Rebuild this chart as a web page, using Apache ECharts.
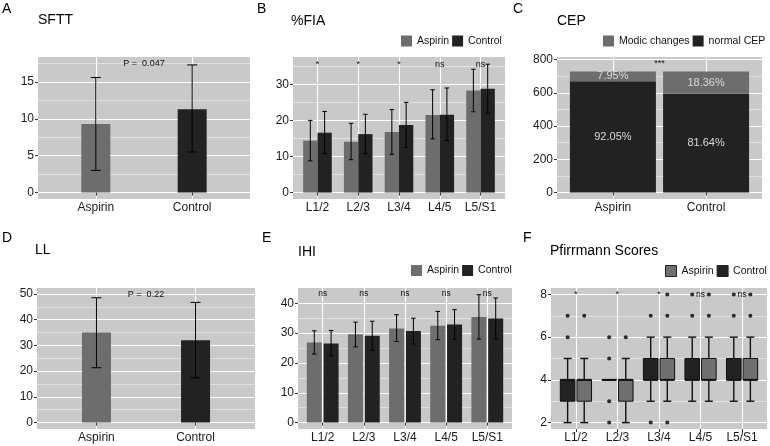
<!DOCTYPE html>
<html>
<head>
<meta charset="utf-8">
<script src="https://cdn.jsdelivr.net/npm/echarts@6/dist/echarts.min.js"></script>
<style>
html, body { margin: 0; padding: 0; background: #fff; }
#main { width: 770px; height: 446px; }
</style>
</head>
<body>
<div id="main"></div>
<script>
// ---- data ----
var groups = ['Aspirin', 'Control'];
var levels = ['L1/2', 'L2/3', 'L3/4', 'L4/5', 'L5/S1'];

// A  SFTT
var sfttMean = [9.3, 11.3];
var sfttLow = [3.0, 5.5];
var sfttHigh = [15.6, 17.3];
var sfttP = 'P =  0.047';

// B  %FIA
var fiaAspMean = [14.4, 14.1, 16.8, 21.5, 28.3];
var fiaAspLow = [8.8, 9.1, 10.6, 14.9, 22.4];
var fiaAspHigh = [20.0, 19.2, 23.0, 28.5, 34.2];
var fiaConMean = [16.6, 16.2, 18.7, 21.6, 28.8];
var fiaConLow = [10.8, 10.8, 12.5, 14.4, 22.0];
var fiaConHigh = [22.5, 21.7, 25.0, 29.0, 35.6];
var fiaSig = ['*', '*', '*', 'ns', 'ns'];

// C  CEP
var cepNormal = [670, 594];
var cepModic = [58, 134];
var cepNormalPct = ['92.05%', '81.64%'];
var cepModicPct = ['7.95%', '18.36%'];

// D  LL
var llMean = [35.0, 32.0];
var llLow = [21.3, 17.4];
var llHigh = [48.5, 46.7];
var llP = 'P =  0.22';

// E  IHI
var ihiAspMean = [26.9, 29.6, 31.6, 32.5, 35.4];
var ihiAspLow = [23.0, 25.4, 27.2, 27.8, 28.0];
var ihiAspHigh = [30.8, 33.7, 36.2, 37.3, 42.9];
var ihiConMean = [26.5, 29.1, 30.7, 32.9, 34.9];
var ihiConLow = [22.4, 24.3, 26.4, 28.0, 28.0];
var ihiConHigh = [30.9, 34.0, 35.0, 37.9, 41.8];
var ihiSig = ['ns', 'ns', 'ns', 'ns', 'ns'];

// F  Pfirrmann (min, q1, median, q3, max)
var pfConStats = [[2, 3, 4, 4, 5], [4, 4, 4, 4, 4], [3, 4, 4, 5, 6], [3, 4, 4, 5, 6], [3, 4, 4, 5, 6]];
var pfConOut = [[6, 7], [2, 3, 5, 6], [2, 7], [7, 8], [7, 8]];
var pfAspStats = [[2, 3, 4, 4, 5], [2, 3, 4, 4, 5], [3, 4, 4, 5, 6], [3, 4, 4, 5, 6], [3, 4, 4, 5, 6]];
var pfAspOut = [[7], [6], [2, 7, 8], [7, 8], [7, 8]];
var pfSig = ['*', '*', '*', 'ns', 'ns'];

// ---- style ----
var FONT = '"Liberation Sans", Arial, Helvetica, sans-serif';
var BG = '#c9c9c9';
var ASP = '#6d6d6d';
var CON = '#222222';
var INK = '#1a1a1a';

var chart = echarts.init(document.getElementById('main'));

var grids = [
    {left: 38, top: 57, width: 212, height: 142},
    {left: 293, top: 57, width: 212, height: 142},
    {left: 557, top: 57, width: 205, height: 142},
    {left: 37, top: 288, width: 218, height: 141},
    {left: 298, top: 288, width: 214, height: 141},
    {left: 551, top: 288, width: 216, height: 141}
];
grids.forEach(function (g) {
    g.show = true;
    g.backgroundColor = BG;
    g.borderWidth = 0;
    g.containLabel = false;
});

function xAx(gi, cats) {
    var ticks = cats.map(function (c, i) { return i + 1; });
    return {
        type: 'value', gridIndex: gi, min: 0.4, max: cats.length + 0.6,
        axisLine: {show: false},
        axisTick: {show: true, length: 3, customValues: ticks, lineStyle: {color: '#333'}},
        axisLabel: {
            customValues: ticks, margin: 3, fontSize: 12, color: INK, fontFamily: FONT,
            formatter: function (v) { return cats[Math.round(v) - 1]; }
        },
        splitLine: {show: true, lineStyle: {color: '#fff', width: 1.1}}
    };
}

function yAx(gi, min, max, major, minor) {
    return [{
        type: 'value', gridIndex: gi, min: min, max: max,
        axisLine: {show: false},
        axisTick: {show: true, length: 3, customValues: major, lineStyle: {color: '#333'}},
        axisLabel: {customValues: major, margin: 4, fontSize: 12, color: INK, fontFamily: FONT},
        splitLine: {show: true, lineStyle: {color: '#fff', width: 1.1}}
    }, {
        type: 'value', gridIndex: gi, min: min, max: max, position: 'left',
        axisLine: {show: false},
        axisTick: {show: false, customValues: minor},
        axisLabel: {show: false, customValues: minor},
        splitLine: {show: true, lineStyle: {color: '#f2f2f2', width: 0.6}}
    }];
}

function errSeries(xi, yi, low, high, offset, cap) {
    return {
        type: 'custom', xAxisIndex: xi, yAxisIndex: yi, z: 4, silent: true,
        data: low.map(function (l, i) { return [i + 1, l, high[i]]; }),
        renderItem: function (params, api) {
            var a = api.coord([api.value(0), api.value(1)]);
            var b = api.coord([api.value(0), api.value(2)]);
            var x = a[0] + offset;
            var st = {stroke: '#000', lineWidth: 1};
            return {type: 'group', children: [
                {type: 'line', shape: {x1: x, y1: a[1], x2: x, y2: b[1]}, style: st},
                {type: 'line', shape: {x1: x - cap / 2, y1: a[1], x2: x + cap / 2, y2: a[1]}, style: st},
                {type: 'line', shape: {x1: x - cap / 2, y1: b[1], x2: x + cap / 2, y2: b[1]}, style: st}
            ]};
        }
    };
}

function textSeries(xi, yi, items, size) {
    return {
        type: 'custom', xAxisIndex: xi, yAxisIndex: yi, z: 5, silent: true,
        data: items.map(function (it) { return [it[0], it[1]]; }),
        renderItem: function (params, api) {
            var p = api.coord([api.value(0), api.value(1)]);
            return {
                type: 'text', x: p[0], y: p[1],
                style: {
                    text: items[params.dataIndex][2], fill: '#111',
                    font: size + 'px ' + FONT, align: 'center', verticalAlign: 'middle'
                }
            };
        }
    };
}

// stacked segment drawn from base to base + value, with its percentage inside
function segSeries(name, base, vals, pct, color) {
    var BW = 86;
    return {
        type: 'custom', name: name, xAxisIndex: 2, yAxisIndex: 4, z: 3, silent: true,
        itemStyle: {color: color},
        data: vals.map(function (v, i) { return [i + 1, base[i], base[i] + v]; }),
        renderItem: function (params, api) {
            var a = api.coord([api.value(0), api.value(1)]);
            var b = api.coord([api.value(0), api.value(2)]);
            return {type: 'group', children: [
                {type: 'rect', shape: {x: a[0] - BW / 2, y: b[1], width: BW, height: a[1] - b[1]},
                    style: {fill: color}},
                {type: 'text', x: a[0], y: (a[1] + b[1]) / 2,
                    style: {text: pct[params.dataIndex], fill: '#d9d9d9', font: '11px ' + FONT,
                        align: 'center', verticalAlign: 'middle'}}
            ]};
        }
    };
}

function sigItems(sig, y) {
    return sig.map(function (s, i) { return [i + 1, y, s]; });
}

function pairs(vals) {
    return vals.map(function (v, i) { return [i + 1, v]; });
}

function boxSeries(name, stats, offset, color) {
    var BW = 14.6, CW = 8;
    return {
        type: 'custom', name: name, xAxisIndex: 5, yAxisIndex: 10, z: 3, silent: true,
        itemStyle: {color: color},
        data: stats.map(function (s, i) { return [i + 1].concat(s); }),
        renderItem: function (params, api) {
            var x = api.value(0);
            var pMin = api.coord([x, api.value(1)]);
            var pQ1 = api.coord([x, api.value(2)]);
            var pMed = api.coord([x, api.value(3)]);
            var pQ3 = api.coord([x, api.value(4)]);
            var pMax = api.coord([x, api.value(5)]);
            var cx = pMin[0] + offset;
            var ws = {stroke: '#111', lineWidth: 1.4};
            return {type: 'group', children: [
                {type: 'line', shape: {x1: cx, y1: pMax[1], x2: cx, y2: pQ3[1]}, style: ws},
                {type: 'line', shape: {x1: cx, y1: pQ1[1], x2: cx, y2: pMin[1]}, style: ws},
                {type: 'line', shape: {x1: cx - CW / 2, y1: pMax[1], x2: cx + CW / 2, y2: pMax[1]}, style: ws},
                {type: 'line', shape: {x1: cx - CW / 2, y1: pMin[1], x2: cx + CW / 2, y2: pMin[1]}, style: ws},
                {type: 'rect', shape: {x: cx - BW / 2, y: pQ3[1], width: BW, height: pQ1[1] - pQ3[1]},
                    style: {fill: color, stroke: '#111', lineWidth: 1}},
                {type: 'line', shape: {x1: cx - BW / 2, y1: pMed[1], x2: cx + BW / 2, y2: pMed[1]},
                    style: {stroke: '#111', lineWidth: 2}}
            ]};
        }
    };
}

function outlierSeries(outs, offset) {
    var d = [];
    outs.forEach(function (arr, i) {
        arr.forEach(function (v) { d.push([i + 1, v]); });
    });
    return {
        type: 'scatter', xAxisIndex: 5, yAxisIndex: 10, z: 4, silent: true,
        symbol: 'circle', symbolSize: 4, symbolOffset: [offset, 0],
        itemStyle: {color: '#000'}, data: d
    };
}

var xAxes = [
    xAx(0, groups), xAx(1, levels), xAx(2, groups),
    xAx(3, groups), xAx(4, levels), xAx(5, levels)
];
var yAxes = [].concat(
    yAx(0, -0.875, 18.375, [0, 5, 10, 15], [2.5, 7.5, 12.5, 17.5]),
    yAx(1, -1.79, 37.59, [0, 10, 20, 30], [5, 15, 25, 35]),
    yAx(2, -39, 816, [0, 200, 400, 600, 800], [100, 300, 500, 700]),
    yAx(3, -2.49, 52.29, [0, 10, 20, 30, 40, 50], [5, 15, 25, 35, 45]),
    yAx(4, -2.15, 45.15, [0, 10, 20, 30, 40], [5, 15, 25, 35]),
    yAx(5, 1.7, 8.3, [2, 4, 6, 8], [3, 5, 7])
);

var series = [
    // A
    {
        type: 'bar', xAxisIndex: 0, yAxisIndex: 0, barWidth: 29, silent: true,
        data: sfttMean.map(function (v, i) { return {value: [i + 1, v], itemStyle: {color: i ? CON : ASP}}; })
    },
    errSeries(0, 0, sfttLow, sfttHigh, 0, 10),
    textSeries(0, 0, [[1.5, 17.5, sfttP]], 9),
    // B
    {type: 'bar', name: 'Aspirin', xAxisIndex: 1, yAxisIndex: 2, barWidth: 14.3, barGap: '0%', silent: true,
        itemStyle: {color: ASP}, data: pairs(fiaAspMean)},
    {type: 'bar', name: 'Control', xAxisIndex: 1, yAxisIndex: 2, barWidth: 14.3, barGap: '0%', silent: true,
        itemStyle: {color: CON}, data: pairs(fiaConMean)},
    errSeries(1, 2, fiaAspLow, fiaAspHigh, -7.15, 4.5),
    errSeries(1, 2, fiaConLow, fiaConHigh, 7.15, 4.5),
    textSeries(1, 2, sigItems(fiaSig, 35.6), 9),
    // C
    segSeries('normal CEP', [0, 0], cepNormal, cepNormalPct, CON),
    segSeries('Modic changes', cepNormal, cepModic, cepModicPct, ASP),
    textSeries(2, 4, [[1.5, 777, '***']], 9),
    // D
    {
        type: 'bar', xAxisIndex: 3, yAxisIndex: 6, barWidth: 29, silent: true,
        data: llMean.map(function (v, i) { return {value: [i + 1, v], itemStyle: {color: i ? CON : ASP}}; })
    },
    errSeries(3, 6, llLow, llHigh, 0, 10),
    textSeries(3, 6, [[1.5, 49.8, llP]], 9),
    // E
    {type: 'bar', name: 'Aspirin', xAxisIndex: 4, yAxisIndex: 8, barWidth: 15, barGap: '12%', silent: true,
        itemStyle: {color: ASP}, data: pairs(ihiAspMean)},
    {type: 'bar', name: 'Control', xAxisIndex: 4, yAxisIndex: 8, barWidth: 15, barGap: '12%', silent: true,
        itemStyle: {color: CON}, data: pairs(ihiConMean)},
    errSeries(4, 8, ihiAspLow, ihiAspHigh, -8.4, 4.5),
    errSeries(4, 8, ihiConLow, ihiConHigh, 8.4, 4.5),
    textSeries(4, 8, sigItems(ihiSig, 43.3), 8.5),
    // F
    boxSeries('Control', pfConStats, -8.3, CON),
    boxSeries('Aspirin', pfAspStats, 8.3, '#707070'),
    outlierSeries(pfConOut, -8.3),
    outlierSeries(pfAspOut, 8.3),
    textSeries(5, 10, sigItems(pfSig, 8.0), 8.5)
];

function legendAt(left, top, items) {
    return {
        left: left, top: top, width: 300, padding: 0, itemWidth: 11, itemHeight: 11, itemGap: 3,
        selectedMode: false, orient: 'horizontal',
        textStyle: {fontSize: 10.5, color: '#111', fontFamily: FONT},
        data: items
    };
}

var legends = [
    legendAt(401, 35.5, [
        {name: 'Aspirin', icon: 'rect', itemStyle: {color: ASP}},
        {name: 'Control', icon: 'rect', itemStyle: {color: CON}}
    ]),
    legendAt(603, 35.5, [
        {name: 'Modic changes', icon: 'rect', itemStyle: {color: ASP}},
        {name: 'normal CEP', icon: 'rect', itemStyle: {color: CON}}
    ]),
    legendAt(411, 265, [
        {name: 'Aspirin', icon: 'rect', itemStyle: {color: ASP}},
        {name: 'Control', icon: 'rect', itemStyle: {color: CON}}
    ]),
    legendAt(665, 265, [
        {name: 'Aspirin', icon: 'rect', itemStyle: {color: '#707070', borderColor: '#222', borderWidth: 1}},
        {name: 'Control', icon: 'rect', itemStyle: {color: CON, borderColor: '#222', borderWidth: 1}}
    ])
];

function ttl(text, left, top, size) {
    return {text: text, left: left, top: top, padding: 0,
        textStyle: {fontSize: size, fontWeight: 'normal', color: '#000', fontFamily: FONT}};
}

var titles = [
    ttl('A', 2, 2, 14), ttl('SFTT', 38, 13, 14),
    ttl('B', 257, 2, 14), ttl('%FIA', 291, 14, 14),
    ttl('C', 513, 2, 14), ttl('CEP', 557, 14, 14),
    ttl('D', 2, 231, 14), ttl('LL', 35, 243, 14),
    ttl('E', 262, 231, 14), ttl('IHI', 298, 245, 14),
    ttl('F', 523, 231, 14), ttl('Pfirrmann Scores', 550, 244, 14)
];

chart.setOption({
    animation: false,
    backgroundColor: '#fff',
    textStyle: {fontFamily: FONT},
    title: titles,
    legend: legends,
    grid: grids,
    xAxis: xAxes,
    yAxis: yAxes,
    series: series
});

window.addEventListener('resize', function () {
    chart.resize();
});
</script>
</body>
</html>
